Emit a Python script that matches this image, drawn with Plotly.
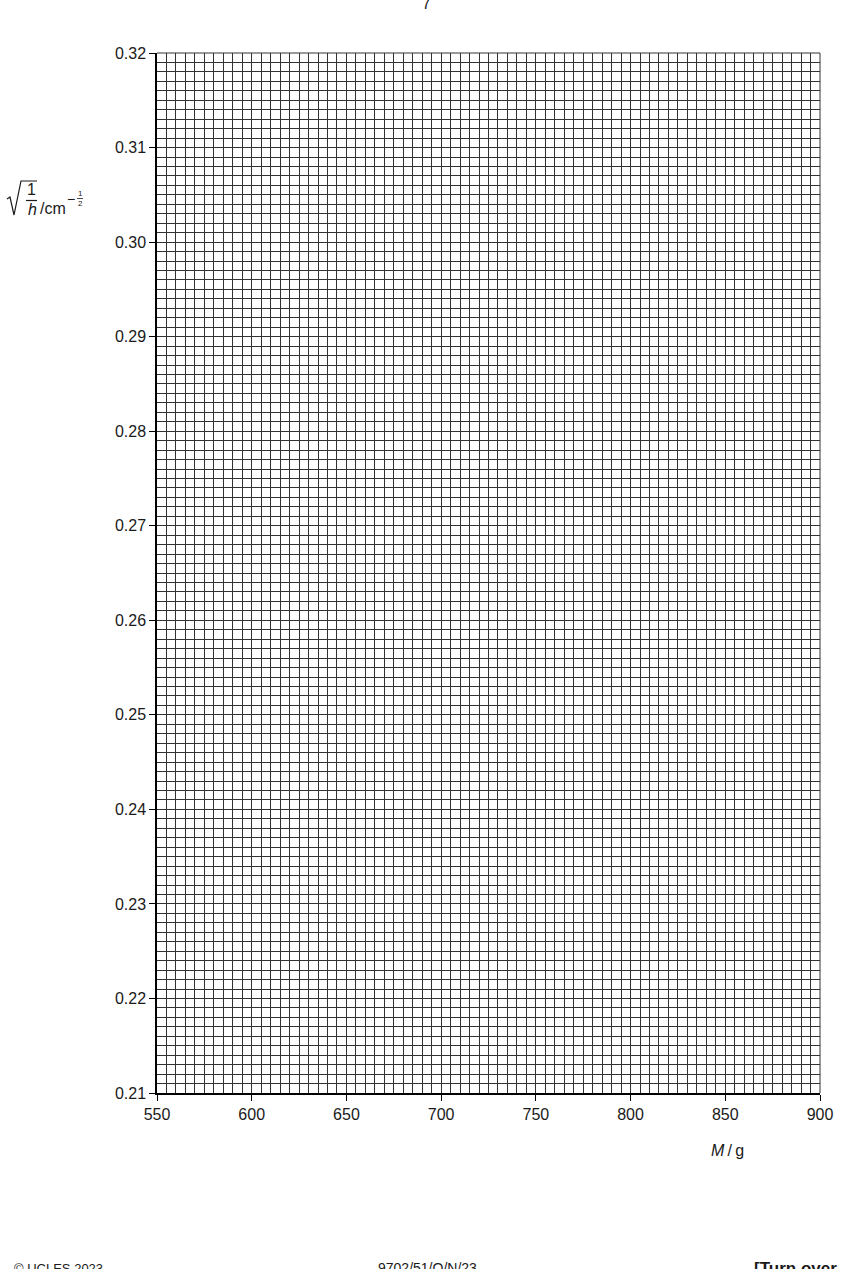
"""Blank graph grid: sqrt(1/h) against M, as on the exam page."""

import plotly.graph_objects as go

# axis values
X_RANGE = [550, 900]
Y_RANGE = [0.21, 0.32]
X_TICKS = [550, 600, 650, 700, 750, 800, 850, 900]
Y_TICKS = [0.21, 0.22, 0.23, 0.24, 0.25, 0.26, 0.27, 0.28, 0.29, 0.30, 0.31, 0.32]
X_TICK_TEXT = ["550", "600", "650", "700", "750", "800", "850", "900"]
Y_TICK_TEXT = ["0.21", "0.22", "0.23", "0.24", "0.25", "0.26", "0.27", "0.28",
               "0.29", "0.30", "0.31", "0.32"]
X_MINOR_STEP = 5
Y_MINOR_STEP = 0.001

PAGE_NUMBER = "7"
FOOTER_LEFT = "© UCLES 2023"
FOOTER_MID = "9702/51/O/N/23"
FOOTER_RIGHT = "[Turn over"

W, H = 852, 1269
L, R, T, B = 157, 820, 53, 1093  # plot area in page pixels

FONT = "Liberation Sans, Arial, sans-serif"
GRID = "#333333"
INK = "#1a1a1a"


def px(x):
    return (x - L) / (R - L)


def py(y):
    return (B - y) / (B - T)


fig = go.Figure()
fig.add_trace(go.Scatter(x=[], y=[], mode="markers", showlegend=False))

axis_style = dict(
    tickmode="array",
    ticks="outside",
    ticklen=6,
    tickcolor="black",
    tickfont=dict(size=16, color=INK),
    showgrid=True,
    gridcolor=GRID,
    gridwidth=1,
    showline=True,
    linecolor="black",
    linewidth=1.5,
    zeroline=False,
    fixedrange=True,
)

fig.update_xaxes(
    range=X_RANGE,
    tickvals=X_TICKS,
    ticktext=X_TICK_TEXT,
    minor=dict(tick0=X_RANGE[0], dtick=X_MINOR_STEP, showgrid=True,
               gridcolor=GRID, gridwidth=1, ticks=""),
    **axis_style,
)
fig.update_yaxes(
    range=Y_RANGE,
    tickvals=Y_TICKS,
    ticktext=Y_TICK_TEXT,
    minor=dict(tick0=Y_RANGE[0], dtick=Y_MINOR_STEP, showgrid=True,
               gridcolor=GRID, gridwidth=1, ticks=""),
    **axis_style,
)

annotations = []


def text_at(x, y, text, size=16, xanchor="center", yanchor="middle", color=INK):
    annotations.append(dict(
        x=px(x), y=py(y), xref="paper", yref="paper", text=text,
        showarrow=False, xanchor=xanchor, yanchor=yanchor,
        font=dict(family=FONT, size=size, color=color),
    ))


# y-axis label: sqrt(1/h) / cm^-1/2, built from pieces
text_at(31.5, 190, "1", size=16)
text_at(32, 209, "<i>h</i>", size=16)
text_at(38, 208, "/cm", size=16, xanchor="left")
text_at(71.5, 199, "\u2212", size=14)
text_at(80, 194, "1", size=8)
text_at(80, 203, "2", size=8)

# x-axis label
text_at(727, 1150, "<i>M</i>\u2009/\u2009g", size=16)

# page furniture
text_at(426, 4, PAGE_NUMBER, size=16)
text_at(12, 1268, FOOTER_LEFT, size=13, xanchor="left")
text_at(427, 1268, FOOTER_MID, size=14)
text_at(839, 1268, "<b>" + FOOTER_RIGHT + "</b>", size=17, xanchor="right")

shapes = [
    # top and right edges of the grid (plotly hides gridlines on the range ends)
    dict(type="line", xref="paper", yref="paper", x0=0, x1=1, y0=1, y1=1,
         line=dict(color=GRID, width=1)),
    dict(type="line", xref="paper", yref="paper", x0=1, x1=1, y0=0, y1=1,
         line=dict(color=GRID, width=1)),
    # radical sign with overline
    dict(type="path", xref="paper", yref="paper",
         path=f"M {px(7)},{py(199)} L {px(10)},{py(197)} L {px(14)},{py(215)} "
              f"L {px(21)},{py(181)} L {px(37)},{py(181)}",
         line=dict(color=INK, width=1.2)),
    # fraction bar under the 1
    dict(type="line", xref="paper", yref="paper",
         x0=px(26), x1=px(37), y0=py(200.5), y1=py(200.5),
         line=dict(color=INK, width=1.2)),
    # small fraction bar in the exponent
    dict(type="line", xref="paper", yref="paper",
         x0=px(77), x1=px(83), y0=py(198.5), y1=py(198.5),
         line=dict(color=INK, width=0.8)),
]

fig.update_layout(
    width=W,
    height=H,
    margin=dict(l=L, r=W - R, t=T, b=H - B, pad=0),
    plot_bgcolor="white",
    paper_bgcolor="white",
    font=dict(family=FONT, color=INK),
    showlegend=False,
    annotations=annotations,
    shapes=shapes,
)

# page body has a default 8px margin; drop it so the figure sits at the corner
fig.write_html(
    "out.html",
    config={"displayModeBar": False},
    post_script="document.body.style.margin = '0'; document.body.style.overflow = 'hidden';",
)
